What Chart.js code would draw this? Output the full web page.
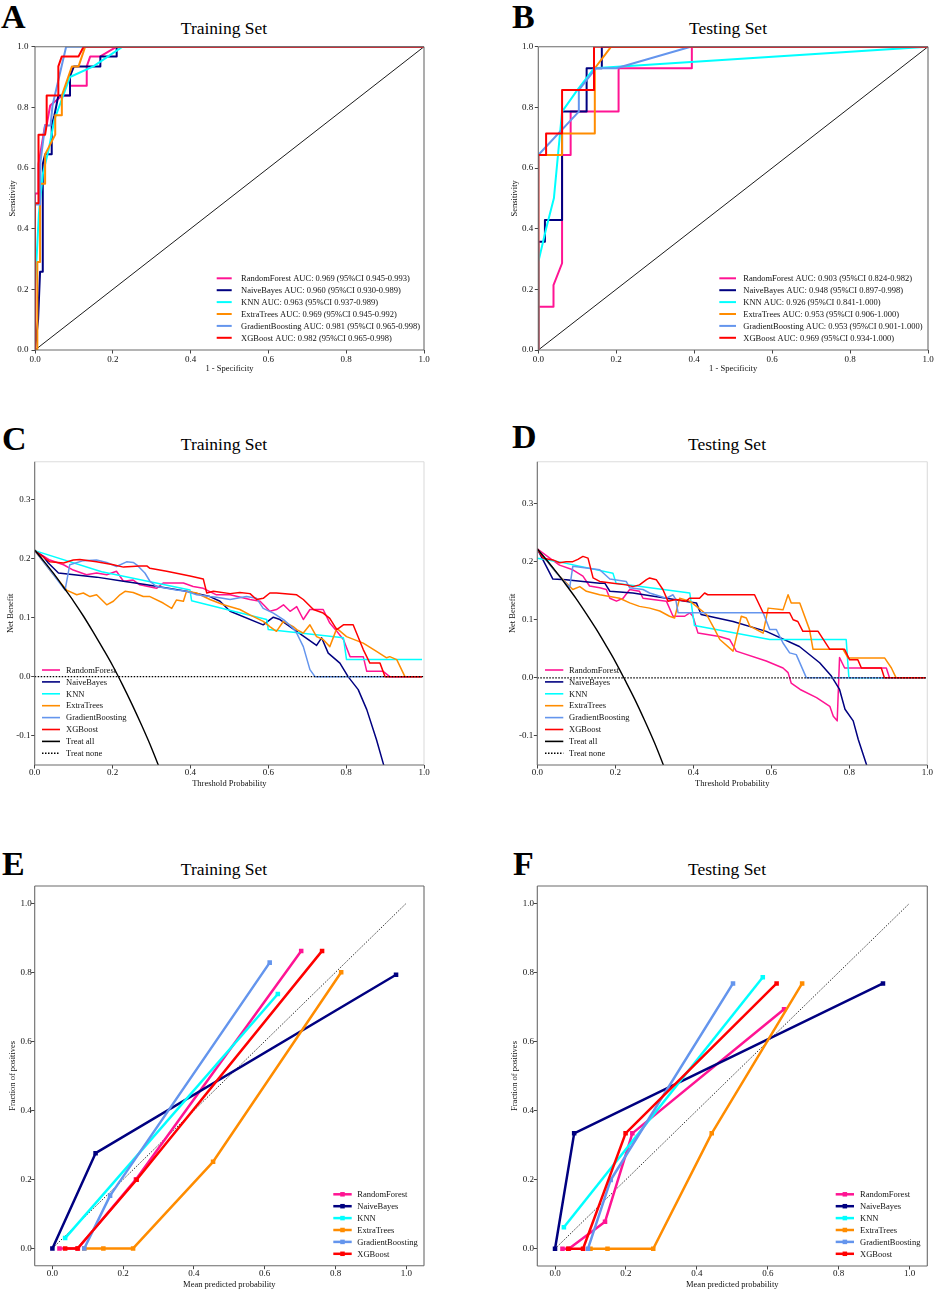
<!DOCTYPE html>
<html><head><meta charset="utf-8">
<script src="https://cdn.jsdelivr.net/npm/chart.js@4.4.1/dist/chart.umd.min.js"></script>
<style>
html,body{margin:0;padding:0;background:#fff;}
body{width:934px;height:1291px;position:relative;overflow:hidden;font-family:'Liberation Serif','Times New Roman',serif;}
canvas{position:absolute;}
.lbl{position:absolute;font-weight:bold;font-size:34px;line-height:34px;color:#000;}
.ttl{position:absolute;font-size:17.5px;line-height:17.5px;color:#000;white-space:nowrap;transform:translateX(-50%);}
</style></head><body>
<div class="lbl" style="left:1px;top:0px">A</div>
<div class="lbl" style="left:512px;top:-0.5px">B</div>
<div class="lbl" style="left:2px;top:421.5px">C</div>
<div class="lbl" style="left:512px;top:419.5px">D</div>
<div class="lbl" style="left:2px;top:846.5px">E</div>
<div class="lbl" style="left:513px;top:846.5px">F</div>
<div class="ttl" style="left:224px;top:19.7px">Training Set</div>
<div class="ttl" style="left:728px;top:20.4px">Testing Set</div>
<div class="ttl" style="left:224px;top:436px">Training Set</div>
<div class="ttl" style="left:727px;top:436px">Testing Set</div>
<div class="ttl" style="left:224px;top:861px">Training Set</div>
<div class="ttl" style="left:727px;top:861px">Testing Set</div>
<script>
// ---------- names, labels, ticks ----------
const models = ['RandomForest','NaiveBayes','KNN','ExtraTrees','GradientBoosting','XGBoost'];
const aucTrain = ['0.969 (95%CI 0.945-0.993)','0.960 (95%CI 0.930-0.989)','0.963 (95%CI 0.937-0.989)','0.969 (95%CI 0.945-0.992)','0.981 (95%CI 0.965-0.998)','0.982 (95%CI 0.965-0.998)'];
const aucTest = ['0.903 (95%CI 0.824-0.982)','0.948 (95%CI 0.897-0.998)','0.926 (95%CI 0.841-1.000)','0.953 (95%CI 0.906-1.000)','0.953 (95%CI 0.901-1.000)','0.969 (95%CI 0.934-1.000)'];
const unitTicks = [0,0.2,0.4,0.6,0.8,1.0];
const dcaYTicks = [-0.1,0,0.1,0.2,0.3];

// ---------- ROC, training ([1-specificity, sensitivity]) ----------
const rocTrainRF = [[0,0],[0,0.516],[0.009,0.516],[0.009,0.613],[0.026,0.742],[0.03,0.742],[0.039,0.806],[0.07,0.839],[0.09,0.839],[0.09,0.871],[0.133,0.871],[0.133,0.935],[0.142,0.968],[0.168,0.968],[0.21,1],[1,1]];
const rocTrainNB = [[0,0],[0.008,0.1],[0.013,0.258],[0.02,0.258],[0.02,0.613],[0.026,0.645],[0.043,0.645],[0.043,0.742],[0.05,0.774],[0.06,0.839],[0.09,0.839],[0.09,0.903],[0.1,0.935],[0.168,0.935],[0.168,0.968],[0.21,0.968],[0.21,1],[1,1]];
const rocTrainKNN = [[0,0],[0,0.2],[0.01,0.45],[0.02,0.58],[0.035,0.66],[0.05,0.76],[0.07,0.83],[0.09,0.9],[0.15,0.935],[0.225,1],[1,1]];
const rocTrainET = [[0,0],[0.006,0],[0.006,0.29],[0.013,0.29],[0.013,0.548],[0.026,0.548],[0.026,0.645],[0.052,0.71],[0.052,0.774],[0.069,0.774],[0.069,0.839],[0.095,0.935],[0.112,0.935],[0.129,1],[1,1]];
const rocTrainGB = [[0,0],[0,0.48],[0.013,0.48],[0.013,0.61],[0.026,0.74],[0.04,0.74],[0.045,0.806],[0.08,1],[1,1]];
const rocTrainXGB = [[0,0],[0,0.484],[0.009,0.484],[0.009,0.71],[0.026,0.71],[0.03,0.742],[0.03,0.839],[0.06,0.839],[0.06,0.935],[0.069,0.968],[0.112,0.968],[0.125,1],[1,1]];
// ---------- ROC, testing ----------
const rocTestRF = [[0,0],[0,0.143],[0.039,0.143],[0.039,0.214],[0.061,0.286],[0.061,0.643],[0.083,0.643],[0.083,0.786],[0.206,0.786],[0.206,0.929],[0.394,0.929],[0.394,1],[1,1]];
const rocTestNB = [[0,0],[0,0.357],[0.017,0.357],[0.017,0.429],[0.061,0.429],[0.061,0.786],[0.124,0.786],[0.124,0.929],[0.163,0.929],[0.163,1],[1,1]];
const rocTestKNN = [[0,0],[0,0.29],[0.02,0.4],[0.04,0.5],[0.061,0.786],[0.1,0.857],[0.143,0.929],[1,1]];
const rocTestET = [[0,0],[0,0.643],[0.061,0.643],[0.061,0.714],[0.145,0.714],[0.145,0.929],[0.187,1],[1,1]];
const rocTestGB = [[0,0],[0,0.643],[0.104,0.786],[0.104,0.857],[0.148,0.929],[0.2,0.929],[0.391,1],[1,1]];
const rocTestXGB = [[0,0],[0,0.643],[0.02,0.643],[0.02,0.714],[0.061,0.714],[0.061,0.857],[0.143,0.857],[0.143,1],[1,1]];
const chanceLine = [[0,0],[1,1]];

// ---------- DCA, training ([threshold, net benefit]) ----------
const dcaTrainRF = [[0,0.214],[0.039,0.198],[0.074,0.19],[0.099,0.181],[0.133,0.173],[0.159,0.176],[0.185,0.173],[0.21,0.179],[0.228,0.162],[0.253,0.164],[0.27,0.156],[0.313,0.15],[0.33,0.159],[0.382,0.159],[0.407,0.153],[0.433,0.15],[0.467,0.139],[0.502,0.139],[0.553,0.131],[0.579,0.128],[0.604,0.111],[0.621,0.114],[0.639,0.122],[0.656,0.111],[0.673,0.119],[0.69,0.097],[0.707,0.114],[0.741,0.114],[0.758,0.091],[0.776,0.077],[0.793,0.063],[0.81,0.034],[0.844,0.034],[0.853,0.009],[0.895,0.009],[0.912,0],[0.995,0]];
const dcaTrainNB = [[0,0.214],[0.022,0.204],[0.035,0.193],[0.061,0.176],[0.159,0.169],[0.228,0.162],[0.288,0.156],[0.39,0.145],[0.45,0.136],[0.476,0.128],[0.502,0.111],[0.587,0.088],[0.613,0.101],[0.63,0.097],[0.724,0.053],[0.737,0.066],[0.754,0.04],[0.784,0.023],[0.805,0],[0.831,-0.022],[0.853,-0.056],[0.878,-0.107],[0.896,-0.149],[0.9,-0.16]];
const dcaTrainKNN = [[0,0.214],[0.172,0.178],[0.399,0.147],[0.403,0.129],[0.596,0.097],[0.6,0.08],[0.793,0.066],[0.801,0.029],[0.995,0.029]];
const dcaTrainET = [[0,0.214],[0.04,0.18],[0.082,0.147],[0.108,0.139],[0.125,0.142],[0.142,0.136],[0.159,0.139],[0.185,0.122],[0.202,0.128],[0.219,0.139],[0.232,0.145],[0.253,0.143],[0.279,0.136],[0.296,0.136],[0.33,0.125],[0.352,0.116],[0.364,0.13],[0.382,0.128],[0.39,0.145],[0.416,0.142],[0.45,0.131],[0.485,0.122],[0.527,0.114],[0.553,0.105],[0.587,0.094],[0.604,0.085],[0.621,0.077],[0.639,0.094],[0.664,0.085],[0.673,0.08],[0.69,0.074],[0.707,0.088],[0.724,0.068],[0.741,0.063],[0.758,0.051],[0.776,0.082],[0.801,0.068],[0.844,0.057],[0.878,0.043],[0.904,0.032],[0.912,0.034],[0.93,0.029],[0.951,0],[0.995,0]];
const dcaTrainGB = [[0,0.214],[0.04,0.18],[0.078,0.147],[0.09,0.19],[0.125,0.197],[0.159,0.198],[0.185,0.194],[0.21,0.187],[0.236,0.195],[0.253,0.194],[0.262,0.19],[0.283,0.176],[0.296,0.162],[0.313,0.153],[0.364,0.147],[0.39,0.145],[0.416,0.139],[0.45,0.136],[0.467,0.135],[0.502,0.131],[0.544,0.136],[0.57,0.133],[0.587,0.116],[0.613,0.108],[0.639,0.097],[0.664,0.082],[0.673,0.074],[0.69,0.051],[0.707,0.012],[0.72,0],[0.995,0]];
const dcaTrainXGB = [[0,0.214],[0.039,0.195],[0.074,0.193],[0.099,0.198],[0.116,0.199],[0.159,0.195],[0.202,0.19],[0.228,0.186],[0.27,0.188],[0.288,0.188],[0.296,0.184],[0.339,0.179],[0.399,0.171],[0.433,0.166],[0.442,0.142],[0.459,0.145],[0.502,0.141],[0.527,0.143],[0.553,0.141],[0.57,0.131],[0.587,0.133],[0.604,0.142],[0.621,0.142],[0.673,0.139],[0.69,0.131],[0.716,0.114],[0.741,0.108],[0.758,0.099],[0.776,0.08],[0.793,0.088],[0.818,0.088],[0.844,0.046],[0.861,0.023],[0.887,0.023],[0.9,0],[0.995,0]];
const dcaTrainAll = [[0,0.215],[0.025,0.195],[0.05,0.174],[0.075,0.151],[0.1,0.128],[0.125,0.103],[0.15,0.076],[0.175,0.048],[0.2,0.019],[0.225,-0.013],[0.25,-0.047],[0.275,-0.083],[0.3,-0.121],[0.325,-0.163],[0.35,-0.208]];
const dcaNone = [[0,0],[1,0]];

// ---------- DCA, testing ----------
const dcaTestRF = [[0,0.222],[0.032,0.206],[0.057,0.194],[0.091,0.186],[0.117,0.175],[0.134,0.158],[0.16,0.155],[0.177,0.152],[0.186,0.137],[0.203,0.132],[0.22,0.137],[0.237,0.152],[0.262,0.149],[0.271,0.137],[0.331,0.132],[0.348,0.106],[0.378,0.106],[0.391,0.112],[0.399,0.106],[0.412,0.077],[0.467,0.071],[0.493,0.066],[0.51,0.046],[0.587,0.029],[0.63,0.017],[0.643,0.009],[0.651,-0.009],[0.674,-0.02],[0.716,-0.034],[0.75,-0.049],[0.759,-0.066],[0.769,-0.074],[0.775,0.035],[0.788,0.017],[0.895,0.017],[0.903,0],[0.995,0]];
const dcaTestNB = [[0,0.222],[0.04,0.17],[0.074,0.169],[0.117,0.166],[0.16,0.163],[0.173,0.163],[0.186,0.149],[0.245,0.146],[0.331,0.137],[0.408,0.129],[0.42,0.109],[0.502,0.097],[0.587,0.08],[0.672,0.054],[0.724,0.026],[0.754,0.003],[0.775,-0.02],[0.789,-0.054],[0.81,-0.074],[0.823,-0.106],[0.844,-0.149],[0.848,-0.16]];
const dcaTestKNN = [[0,0.206],[0.053,0.2],[0.194,0.18],[0.202,0.163],[0.391,0.146],[0.403,0.09],[0.596,0.066],[0.792,0.066],[0.799,0],[0.995,0]];
const dcaTestET = [[0,0.222],[0.05,0.18],[0.091,0.152],[0.109,0.157],[0.126,0.149],[0.143,0.146],[0.16,0.143],[0.186,0.14],[0.211,0.137],[0.237,0.129],[0.262,0.123],[0.288,0.12],[0.314,0.115],[0.339,0.106],[0.352,0.103],[0.365,0.137],[0.391,0.132],[0.408,0.123],[0.434,0.109],[0.455,0.083],[0.468,0.066],[0.502,0.046],[0.523,0.106],[0.536,0.103],[0.545,0.089],[0.579,0.077],[0.592,0.12],[0.63,0.117],[0.643,0.143],[0.651,0.129],[0.673,0.129],[0.698,0.083],[0.707,0.049],[0.784,0.049],[0.797,0.034],[0.891,0.034],[0.908,0.017],[0.92,0],[0.995,0]];
const dcaTestGB = [[0,0.222],[0.05,0.18],[0.083,0.155],[0.091,0.192],[0.126,0.189],[0.16,0.186],[0.186,0.17],[0.228,0.166],[0.237,0.155],[0.271,0.152],[0.288,0.146],[0.331,0.137],[0.348,0.143],[0.355,0.135],[0.361,0.112],[0.579,0.112],[0.596,0.083],[0.613,0.083],[0.63,0.06],[0.647,0.043],[0.664,0.04],[0.69,0],[0.995,0]];
const dcaTestXGB = [[0,0.222],[0.015,0.206],[0.04,0.203],[0.057,0.198],[0.074,0.2],[0.091,0.2],[0.104,0.204],[0.117,0.209],[0.13,0.206],[0.143,0.172],[0.16,0.166],[0.194,0.163],[0.228,0.16],[0.245,0.157],[0.262,0.16],[0.28,0.169],[0.288,0.172],[0.305,0.169],[0.322,0.152],[0.335,0.132],[0.356,0.135],[0.382,0.132],[0.39,0.137],[0.416,0.137],[0.429,0.146],[0.437,0.143],[0.557,0.143],[0.579,0.112],[0.647,0.112],[0.656,0.1],[0.668,0.097],[0.681,0.08],[0.72,0.08],[0.75,0.049],[0.788,0.049],[0.801,0.031],[0.822,0.031],[0.831,0.017],[0.882,0.017],[0.89,0],[0.995,0]];
const dcaTestAll = [[0,0.222],[0.025,0.202],[0.05,0.181],[0.075,0.159],[0.1,0.136],[0.125,0.111],[0.15,0.085],[0.175,0.057],[0.2,0.028],[0.225,-0.004],[0.25,-0.037],[0.275,-0.073],[0.3,-0.111],[0.325,-0.153],[0.35,-0.197]];

// ---------- Calibration ([mean predicted probability, fraction of positives]) ----------
const calTrainRF = [[0.02,0],[0.072,0],[0.236,0.2],[0.703,0.862]];
const calTrainNB = [[0,0],[0.122,0.276],[0.971,0.793]];
const calTrainKNN = [[0.036,0.03],[0.637,0.737]];
const calTrainET = [[0.09,0],[0.144,0],[0.228,0],[0.454,0.251],[0.816,0.8]];
const calTrainGB = [[0.09,0],[0.163,0.153],[0.614,0.828]];
const calTrainXGB = [[0.036,0],[0.071,0],[0.238,0.199],[0.762,0.862]];
const calTestRF = [[0.021,0],[0.039,0],[0.141,0.078],[0.218,0.334],[0.646,0.693]];
const calTestNB = [[0,0],[0.054,0.334],[0.925,0.768]];
const calTestKNN = [[0.025,0.062],[0.586,0.786]];
const calTestET = [[0.1,0],[0.148,0],[0.277,0],[0.442,0.334],[0.697,0.768]];
const calTestGB = [[0.093,0],[0.157,0.199],[0.502,0.768]];
const calTestXGB = [[0.037,0],[0.079,0],[0.199,0.334],[0.625,0.768]];
const perfectLine = [[0,0],[1,1]];

// ---------- styling ----------
const COLORS = ['#ff1493','#000080','#00ffff','#ff8c00','#6495ed','#ff0000'];
const FONT = "'Liberation Serif','Times New Roman',serif";
const pts = a => a.map(([x,y]) => ({x,y}));
const fmt = v => (Math.abs(v) < 1e-9 ? 0 : v).toFixed(1);

function modelSets(arrs, labels, lw, marker) {
  return arrs.map((a,i) => ({
    label: labels[i], data: pts(a), borderColor: COLORS[i], backgroundColor: COLORS[i],
    borderWidth: lw, pointRadius: marker ? 3.2 : 0, pointStyle: 'rect',
    pointBackgroundColor: COLORS[i], pointBorderColor: COLORS[i], pointBorderWidth: 0,
    pointHoverRadius: 0, tension: 0, fill: false, order: 7 - i,
    borderJoinStyle: 'round'
  }));
}
function extraLine(arr, label, color, lw, dash, order, smooth) {
  return { label: label, data: pts(arr), borderColor: color, backgroundColor: color,
    borderWidth: lw, borderDash: dash, pointRadius: 0, pointHoverRadius: 0, fill: false,
    order: order, tension: 0, cubicInterpolationMode: smooth ? 'monotone' : 'default' };
}

const framePlugin = {
  id: 'frame',
  afterDatasetsDraw(chart, args, o) {
    if (!o || !o.left) return;
    const {left, right, top, bottom} = chart.chartArea;
    const ctx = chart.ctx; ctx.save(); ctx.lineWidth = 1.1; ctx.setLineDash([]);
    const seg = (c, x1, y1, x2, y2) => { ctx.strokeStyle = c; ctx.beginPath(); ctx.moveTo(x1, y1); ctx.lineTo(x2, y2); ctx.stroke(); };
    seg(o.top, left, top, right, top);
    seg(o.right, right, top, right, bottom);
    seg(o.left, left, top, left, bottom);
    seg(o.bottom, left, bottom, right, bottom);
    ctx.restore();
  }
};
const legendPlugin = {
  id: 'insideLegend',
  afterDraw(chart, args, o) {
    if (!o || o.x1 === undefined) return;
    const ctx = chart.ctx; ctx.save();
    ctx.font = o.size + 'px ' + FONT; ctx.textBaseline = 'middle'; ctx.textAlign = 'left';
    const list = chart.data.datasets.filter(d => d.label);
    list.forEach((d, i) => {
      const y = o.y0 + i * o.dy;
      ctx.strokeStyle = d.borderColor; ctx.lineWidth = o.lw || d.borderWidth;
      ctx.setLineDash(d.borderDash || []);
      ctx.beginPath(); ctx.moveTo(o.x1, y); ctx.lineTo(o.x2, y); ctx.stroke();
      ctx.setLineDash([]);
      if (d.pointRadius > 0) { ctx.fillStyle = d.borderColor; const s = 4.5; ctx.fillRect((o.x1 + o.x2) / 2 - s / 2, y - s / 2, s, s); }
      ctx.fillStyle = '#111';
      ctx.fillText(d.label, o.tx, y + 0.5);
    });
    ctx.restore();
  }
};

function makePanel(c) {
  const [bx, by, bw, bh] = c.box;
  const [l, t, r, b] = c.area;
  const cv = document.createElement('canvas');
  cv.width = bw; cv.height = bh;
  cv.style.left = bx + 'px'; cv.style.top = by + 'px';
  cv.style.width = bw + 'px'; cv.style.height = bh + 'px';
  document.body.appendChild(cv);
  const TL = 3.5, tickSize = 9, titleSize = 8.5;
  const tickLH = tickSize * 1.2, titleLH = titleSize * 1.2;
  const yW = l - bx, xH = by + bh - b;
  const zeroPad = s => { s.paddingLeft = 0; s.paddingRight = 0; s.paddingTop = 0; s.paddingBottom = 0; };
  const lg = c.legend;
  new Chart(cv, {
    type: 'line',
    data: { datasets: c.datasets },
    options: {
      responsive: false, animation: false, events: [],
      layout: { padding: { left: 0, top: t - by, right: bx + bw - r, bottom: 0 } },
      plugins: {
        legend: { display: false }, tooltip: { enabled: false }, title: { display: false },
        frame: c.frame,
        insideLegend: { x1: lg.x1 - bx, x2: lg.x2 - bx, tx: lg.tx - bx, y0: lg.y0 - by, dy: lg.dy, size: 8.5, lw: lg.lw }
      },
      scales: {
        x: {
          type: 'linear', position: 'bottom', min: c.xRange[0], max: c.xRange[1],
          afterBuildTicks: s => { s.ticks = c.xTicks.map(v => ({ value: v })); },
          afterFit: s => { s.height = xH; zeroPad(s); },
          ticks: { font: { family: FONT, size: tickSize }, color: '#111', maxRotation: 0, autoSkip: false,
                   padding: c.xTickY - b - TL - tickLH / 2, callback: v => fmt(v) },
          grid: { drawOnChartArea: false, drawTicks: true, tickLength: TL, color: '#444', lineWidth: 1 },
          border: { display: false },
          title: { display: true, text: c.xTitle, color: '#111', font: { family: FONT, size: titleSize },
                   padding: { top: 0, bottom: (by + bh - c.xTitleY) - titleLH / 2 } }
        },
        y: {
          type: 'linear', position: 'left', min: c.yRange[0], max: c.yRange[1],
          afterBuildTicks: s => { s.ticks = c.yTicks.map(v => ({ value: v })); },
          afterFit: s => { s.width = yW; zeroPad(s); },
          ticks: { font: { family: FONT, size: tickSize }, color: '#111', autoSkip: false,
                   padding: l - TL - c.yTickRight, callback: v => fmt(v) },
          grid: { drawOnChartArea: false, drawTicks: true, tickLength: TL, color: '#444', lineWidth: 1 },
          border: { display: false },
          title: { display: true, text: c.yTitle, color: '#111', font: { family: FONT, size: titleSize },
                   padding: { top: (c.yTitleX - bx) - titleLH / 2, bottom: 0 } }
        }
      }
    },
    plugins: [framePlugin, legendPlugin]
  });
}

const fullFrame = { left: '#6a6a6a', bottom: '#6a6a6a', top: '#6a6a6a', right: '#6a6a6a' };
const dcaFrame = { left: '#6a6a6a', bottom: '#6a6a6a', top: '#dcdcdc', right: '#dcdcdc' };
const rocLabels = (auc) => models.map((m, i) => m + ' AUC: ' + auc[i]);

// A: ROC training
makePanel({
  box: [0, 0, 467, 380], area: [35, 46.7, 424, 350],
  xRange: [0, 1], yRange: [0, 1], xTicks: unitTicks, yTicks: unitTicks,
  xTickY: 359.5, xTitleY: 368.3, yTickRight: 28.5, yTitleX: 12.3,
  xTitle: '1 - Specificity', yTitle: 'Sensitivity', frame: fullFrame,
  legend: { x1: 216.7, x2: 231.7, tx: 241, y0: 278.3, dy: 11.9, lw: 2 },
  datasets: modelSets([rocTrainRF, rocTrainNB, rocTrainKNN, rocTrainET, rocTrainGB, rocTrainXGB], rocLabels(aucTrain), 2, false)
    .concat([extraLine(chanceLine, '', '#000', 0.9, [], 9, false)])
});
// B: ROC testing
makePanel({
  box: [500, 0, 434, 380], area: [538.3, 46.7, 928, 350],
  xRange: [0, 1], yRange: [0, 1], xTicks: unitTicks, yTicks: unitTicks,
  xTickY: 359.5, xTitleY: 368.3, yTickRight: 533.3, yTitleX: 515,
  xTitle: '1 - Specificity', yTitle: 'Sensitivity', frame: fullFrame,
  legend: { x1: 719.3, x2: 736, tx: 743.3, y0: 278.3, dy: 11.9, lw: 2 },
  datasets: modelSets([rocTestRF, rocTestNB, rocTestKNN, rocTestET, rocTestGB, rocTestXGB], rocLabels(aucTest), 2, false)
    .concat([extraLine(chanceLine, '', '#000', 0.9, [], 9, false)])
});
// C: DCA training
makePanel({
  box: [0, 400, 467, 400], area: [34.7, 461.7, 424, 765],
  xRange: [0, 1], yRange: [-0.15, 0.365], xTicks: unitTicks, yTicks: dcaYTicks,
  xTickY: 772.7, xTitleY: 784, yTickRight: 30.5, yTitleX: 10.5,
  xTitle: 'Threshold Probability', yTitle: 'Net Benefit', frame: dcaFrame,
  legend: { x1: 42, x2: 60, tx: 66, y0: 670, dy: 11.9, lw: 1.6 },
  datasets: modelSets([dcaTrainRF, dcaTrainNB, dcaTrainKNN, dcaTrainET, dcaTrainGB, dcaTrainXGB], models, 1.5, false)
    .concat([extraLine(dcaTrainAll, 'Treat all', '#000', 1.4, [], 1, true),
             extraLine(dcaNone, 'Treat none', '#000', 1.2, [1.5, 1.5], 1, false)])
});
// D: DCA testing
makePanel({
  box: [500, 400, 434, 400], area: [537.3, 461.7, 927.3, 765],
  xRange: [0, 1], yRange: [-0.15, 0.372], xTicks: unitTicks, yTicks: dcaYTicks,
  xTickY: 772.7, xTitleY: 784, yTickRight: 533.3, yTitleX: 512.7,
  xTitle: 'Threshold Probability', yTitle: 'Net Benefit', frame: dcaFrame,
  legend: { x1: 545, x2: 563.3, tx: 569, y0: 670, dy: 11.9, lw: 1.6 },
  datasets: modelSets([dcaTestRF, dcaTestNB, dcaTestKNN, dcaTestET, dcaTestGB, dcaTestXGB], models, 1.5, false)
    .concat([extraLine(dcaTestAll, 'Treat all', '#000', 1.4, [], 1, true),
             extraLine(dcaNone, 'Treat none', '#000', 1.2, [1.5, 1.5], 1, false)])
});
// E: calibration training
makePanel({
  box: [0, 840, 467, 451], area: [34.7, 886, 424, 1265.7],
  xRange: [-0.05, 1.05], yRange: [-0.05, 1.05], xTicks: unitTicks, yTicks: unitTicks,
  xTickY: 1273.3, xTitleY: 1284.3, yTickRight: 31.7, yTitleX: 12.3,
  xTitle: 'Mean predicted probability', yTitle: 'Fraction of positives', frame: fullFrame,
  legend: { x1: 333.3, x2: 351.7, tx: 357.3, y0: 1194.3, dy: 11.9, lw: 2.5 },
  datasets: modelSets([calTrainRF, calTrainNB, calTrainKNN, calTrainET, calTrainGB, calTrainXGB], models, 2.5, true)
    .concat([extraLine(perfectLine, '', '#333', 1, [1.5, 1.5], 10, false)])
});
// F: calibration testing
makePanel({
  box: [494, 840, 440, 451], area: [537.3, 886, 927.3, 1266],
  xRange: [-0.05, 1.05], yRange: [-0.05, 1.05], xTicks: unitTicks, yTicks: unitTicks,
  xTickY: 1273.3, xTitleY: 1284.3, yTickRight: 534, yTitleX: 515,
  xTitle: 'Mean predicted probability', yTitle: 'Fraction of positives', frame: fullFrame,
  legend: { x1: 835.7, x2: 854, tx: 860, y0: 1194.3, dy: 11.9, lw: 2.5 },
  datasets: modelSets([calTestRF, calTestNB, calTestKNN, calTestET, calTestGB, calTestXGB], models, 2.5, true)
    .concat([extraLine(perfectLine, '', '#333', 1, [1.5, 1.5], 10, false)])
});
</script>
</body></html>
